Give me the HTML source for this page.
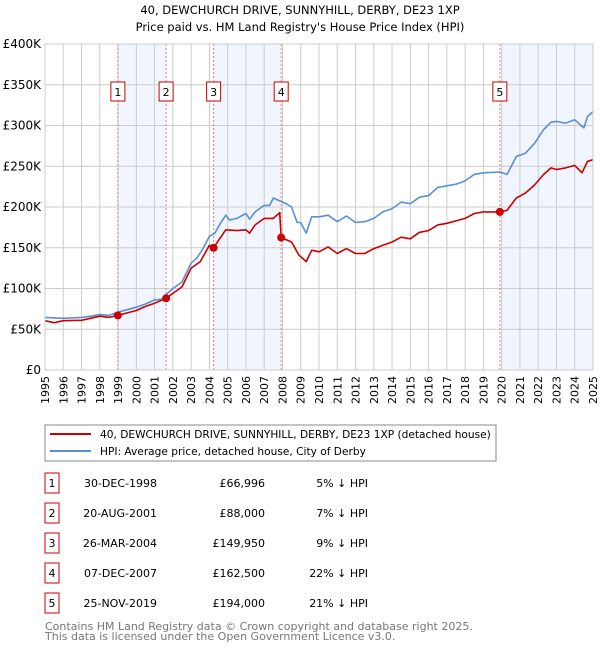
<!DOCTYPE html>
<html><head><meta charset="utf-8">
<style>
body{margin:0;background:#fff;font-family:"DejaVu Sans","Liberation Sans",sans-serif;}
svg text{font-family:"DejaVu Sans","Liberation Sans",sans-serif;}
</style></head>
<body>
<svg width="600" height="650" viewBox="0 0 600 650">
<text x="300" y="14" text-anchor="middle" font-size="11.5">40, DEWCHURCH DRIVE, SUNNYHILL, DERBY, DE23 1XP</text>
<text x="300" y="31" text-anchor="middle" font-size="11.5">Price paid vs. HM Land Registry's House Price Index (HPI)</text>
<g id="plot"></g>
<rect x="45" y="425" width="451" height="36" fill="none" stroke="#888"/>
<line x1="50" y1="434" x2="91" y2="434" stroke="#cc0000" stroke-width="2"/>
<text x="100" y="438" font-size="10.6">40, DEWCHURCH DRIVE, SUNNYHILL, DERBY, DE23 1XP (detached house)</text>
<line x1="50" y1="451" x2="91" y2="451" stroke="#5b8fd4" stroke-width="2"/>
<text x="100" y="455" font-size="10.6">HPI: Average price, detached house, City of Derby</text>
<g id="table"></g>
<text x="45" y="630" font-size="11" fill="#777">Contains HM Land Registry data © Crown copyright and database right 2025.</text>
<text x="45" y="640" font-size="11" fill="#777">This data is licensed under the Open Government Licence v3.0.</text>
</svg>
<script>
const hpiYears=[1995,1996,1997,1997.5,1998,1998.5,1999,1999.5,2000,2000.5,2001,2001.5,2001.7,2002,2002.5,2003,2003.3,2003.6,2004,2004.3,2004.6,2004.9,2005.1,2005.5,2006,2006.2,2006.5,2007,2007.3,2007.5,2007.8,2008.2,2008.5,2008.8,2009,2009.3,2009.6,2010,2010.5,2011,2011.5,2012,2012.5,2013,2013.5,2014,2014.5,2015,2015.5,2016,2016.5,2017,2017.5,2018,2018.5,2019,2019.9,2020.3,2020.8,2021.3,2021.8,2022.3,2022.7,2023,2023.5,2024,2024.5,2024.7,2025];
const hpiValues=[64.6,63.4,64.6,66,68,67,71,74,77,81,86,87,94,100,108,131,137,147,164,168,180,190,184,186,192,185,194,202,202,211,208,204,200,181,181,168,188,188,190,182,189,181,182,186,194,198,206,204,212,214,224,226,228,232,240,242,243,240,262,266,278,295,304,305,303,307,297,311,317];
const redYears=[1995,1995.5,1996,1997,1998,1998.5,1998.99,1999.5,2000,2000.5,2001,2001.63,2002,2002.5,2003,2003.5,2004,2004.23,2004.5,2004.9,2005.5,2006,2006.2,2006.5,2007,2007.5,2007.85,2007.93,2008.5,2008.9,2009,2009.3,2009.6,2010,2010.5,2011,2011.5,2012,2012.5,2013,2013.5,2014,2014.5,2015,2015.5,2016,2016.5,2017,2017.5,2018,2018.5,2019,2019.9,2020.3,2020.8,2021.3,2021.8,2022.3,2022.7,2023,2023.5,2024,2024.4,2024.7,2025];
const redValues=[60.5,58,60.5,61,66,64.6,67,70,73,78,82,88,94,102,125,133,153,149.95,159,172,171,172,168,178,186,186,193,162.5,157,141,139,133,147,145,151,143,149,143,143,149,153,157,163,161,169,171,178,180,183,186,192,194,194,196,211,217,227,240,248,246,248,251,242,256,258];
const saleYears=[1998.99,2001.63,2004.23,2007.93,2019.9];
const saleValues=[66.996,88,149.95,162.5,194];
const saleLabels=["1","2","3","4","5"];
const saleDates=["30-DEC-1998","20-AUG-2001","26-MAR-2004","07-DEC-2007","25-NOV-2019"];
const salePrices=["£66,996","£88,000","£149,950","£162,500","£194,000"];
const salePcts=["5% ↓ HPI","7% ↓ HPI","9% ↓ HPI","22% ↓ HPI","21% ↓ HPI"];
const yTicks=[0,50,100,150,200,250,300,350,400];
const yTickLabels=["£0","£50K","£100K","£150K","£200K","£250K","£300K","£350K","£400K"];
const xTicks=[1995,1996,1997,1998,1999,2000,2001,2002,2003,2004,2005,2006,2007,2008,2009,2010,2011,2012,2013,2014,2015,2016,2017,2018,2019,2020,2021,2022,2023,2024,2025];

const NS="http://www.w3.org/2000/svg";
const L=45,R=593,T=44,B=370;
const xs=y=>L+(y-1995)/30*(R-L);
const ys=v=>B-v/400*(B-T);
const g=document.getElementById('plot');
function mk(tag,attrs,parent){const e=document.createElementNS(NS,tag);for(const k in attrs)e.setAttribute(k,attrs[k]);(parent||g).appendChild(e);return e;}
const shadeEnds=[[0,1],[2,3],[4,null]];
shadeEnds.forEach(p=>{const x1=xs(saleYears[p[0]]);const x2=p[1]===null?R:xs(saleYears[p[1]]);
const r=mk('rect',{x:x1,y:T,width:x2-x1,height:B-T,fill:'#eef3fc',opacity:0.8});

});
xTicks.forEach(t=>{const x=xs(t);const l=mk('line',{x1:x,y1:T,x2:x,y2:B,stroke:'#cccccc','stroke-width':1});


const tx=mk('text',{x:0,y:0,'font-size':11,'text-anchor':'end',transform:`translate(${x+4},${B+6}) rotate(-90)`});
tx.textContent=t;

});
yTicks.forEach((t,i)=>{const y=ys(t);const l=mk('line',{x1:L,y1:y,x2:R,y2:y,stroke:'#cccccc','stroke-width':1});


const tx=mk('text',{x:L-4,y:y+4,'font-size':12,'text-anchor':'end'});
tx.textContent=yTickLabels[i];

});
saleYears.forEach((s,i)=>{const x=xs(s);const l=mk('line',{x1:x,y1:T,x2:x,y2:B,stroke:'#e88080','stroke-width':1,'stroke-dasharray':'2,2'});


const b=mk('rect',{x:x-7,y:82,width:14,height:19,fill:'#fff',stroke:'#cc0000'});


const tx=mk('text',{x:x,y:96,'font-size':11,'text-anchor':'middle'});tx.textContent=saleLabels[i];

});
function path(xa,va,color,name){const d=xa.map((y,i)=>(i?'L':'M')+xs(y).toFixed(1)+','+ys(va[i]).toFixed(1)).join('');
const p=mk('path',{d:d,fill:'none',stroke:color,'stroke-width':1.6,'stroke-linejoin':'round'});

}
path(hpiYears,hpiValues,'#5b8fd4','hpi-line');
path(redYears,redValues,'#cc0000','price-paid-line');
saleYears.forEach((s,i)=>{const c=mk('circle',{cx:xs(s),cy:ys(saleValues[i]),r:4,fill:'#cc0000'});

});
mk('rect',{x:L,y:T,width:R-L,height:B-T,fill:'none',stroke:'#cccccc'});
const tb=document.getElementById('table');
saleLabels.forEach((lab,i)=>{const cy=483+i*30;
const b=mk('rect',{x:45,y:cy-10,width:14,height:20,fill:'#fff',stroke:'#cc0000'},tb);


const cols=[[52,'middle',lab,'table-number'],[157,'end',saleDates[i],'table-date'],[265,'end',salePrices[i],'table-price'],[368,'end',salePcts[i],'table-hpi-diff']];
cols.forEach(c=>{const t=mk('text',{x:c[0],y:cy+4,'font-size':11,'text-anchor':c[1]},tb);t.textContent=c[2];

});});
</script>
</body></html>
